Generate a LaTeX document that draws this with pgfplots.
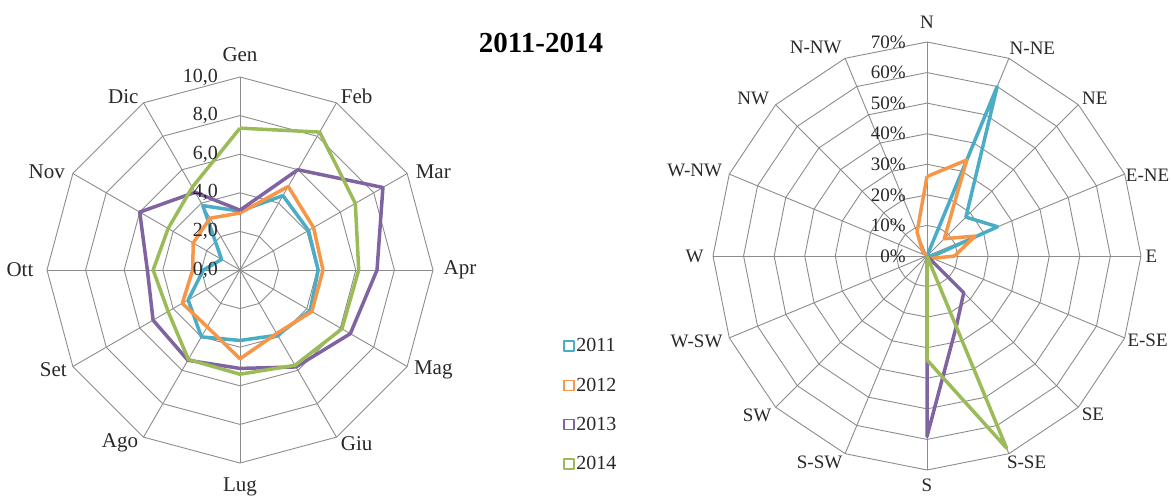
\documentclass[border=0pt]{standalone}
\usepackage{pgfplots}
\pgfplotsset{compat=1.18}
\usepackage{fontspec}
\setmainfont{Liberation Serif}
\definecolor{c11}{RGB}{75,172,198}
\definecolor{c12}{RGB}{247,150,70}
\definecolor{c13}{RGB}{128,100,162}
\definecolor{c14}{RGB}{155,187,89}
\definecolor{gridc}{RGB}{140,140,140}
\definecolor{txt}{RGB}{40,40,40}
\pgfplotsset{
  radargrid/.style={gridc, line width=0.9pt, forget plot, data cs=polar},
  series/.style={line width=3.5pt, line join=round, data cs=polar},
}
\begin{document}
\begin{tikzpicture}
\useasboundingbox (0pt,0pt) rectangle (1171pt,496pt);
\node[font=\fontsize{29}{32}\selectfont\bfseries, text=black] at (541pt,453pt) {2011-2014};

% ---------------- left: monthly ----------------
\begin{axis}[at={(240pt,226pt)}, anchor=center, scale only axis,
  width=386pt, height=386pt, xmin=-10, xmax=10, ymin=-10, ymax=10,
  hide axis, clip=false,
  legend cell align=left,
  legend style={at={(axis cs:16.74,-3.47)}, anchor=north west, draw=none, fill=none,
    font=\fontsize{20}{22}\selectfont, row sep=21.5pt, inner sep=0pt,
    nodes={inner sep=1.5pt, text=txt}},
  legend image code/.code={\draw[line width=1.5pt, fill=white] (0pt,-5pt) rectangle (10pt,5pt);}]
\pgfplotsinvokeforeach{2,4,6,8,10}{\addplot[radargrid, domain=0:360, samples=13] ({x},{#1});}
\pgfplotsinvokeforeach{0,30,...,330}{\addplot[radargrid] coordinates {(#1,0) (#1,10)};}

\addplot[series, c11] coordinates {(90,3.05) (60,4.45) (30,4.1) (0,4.05) (-30,4.2) (-60,3.9) (-90,3.65) (-120,4.0) (-150,3.1) (180,1.9) (150,1.1) (120,3.85) (90,3.05)};
\addlegendentry{2011}
\addplot[series, c12] coordinates {(90,2.95) (60,5.0) (30,4.4) (0,4.3) (-30,4.3) (-60,3.8) (-90,4.6) (-120,3.4) (-150,3.45) (180,2.45) (150,2.8) (120,3.1) (90,2.95)};
\addlegendentry{2012}
\addplot[series, c13] coordinates {(90,3.1) (60,6.0) (30,8.55) (0,7.1) (-30,6.6) (-60,5.8) (-90,5.1) (-120,5.4) (-150,5.2) (180,4.8) (150,6.0) (120,4.65) (90,3.1)};
\addlegendentry{2013}
\addplot[series, c14] coordinates {(90,7.35) (60,8.25) (30,6.9) (0,6.15) (-30,6.1) (-60,5.7) (-90,5.4) (-120,5.35) (-150,4.3) (180,4.5) (150,4.3) (120,4.95) (90,7.35)};
\addlegendentry{2014}

\pgfplotsinvokeforeach{0,2,4,6,8,10}{\node[anchor=east, inner sep=0pt, text=txt, font=\fontsize{20}{22}\selectfont] at (axis cs:-1.14,#1) {#1,0};}

\begin{scope}[every node/.style={text=txt, font=\fontsize{21}{24}\selectfont}]
\node at ([shift={(0pt,215pt)}]axis cs:0,0) {Gen};
\node at ([shift={(116.7pt,173.3pt)}]axis cs:0,0) {Feb};
\node at ([shift={(193.3pt,98.3pt)}]axis cs:0,0) {Mar};
\node at ([shift={(220pt,0pt)}]axis cs:0,0) {Apr};
\node at ([shift={(193.3pt,-100pt)}]axis cs:0,0) {Mag};
\node at ([shift={(116.7pt,-173.3pt)}]axis cs:0,0) {Giu};
\node at ([shift={(0pt,-217pt)}]axis cs:0,0) {Lug};
\node at ([shift={(-120pt,-173.3pt)}]axis cs:0,0) {Ago};
\node at ([shift={(-186.7pt,-100pt)}]axis cs:0,0) {Set};
\node at ([shift={(-220pt,0pt)}]axis cs:0,0) {Ott};
\node at ([shift={(-193.3pt,98.3pt)}]axis cs:0,0) {Nov};
\node at ([shift={(-116.7pt,173.3pt)}]axis cs:0,0) {Dic};
\end{scope}
\end{axis}

% ---------------- right: wind directions ----------------
\begin{axis}[at={(927pt,240pt)}, anchor=center, scale only axis,
  width=428pt, height=428pt, xmin=-70, xmax=70, ymin=-70, ymax=70,
  hide axis, clip=false]
\pgfplotsinvokeforeach{10,20,...,70}{\addplot[radargrid, domain=0:360, samples=17] ({x},{#1});}
\pgfplotsinvokeforeach{0,22.5,...,337.5}{\addplot[radargrid] coordinates {(#1,0) (#1,70)};}

% order: N, N-NE, NE, E-NE, E, E-SE, SE, S-SE, S, S-SW, SW, W-SW, W, W-NW, NW, N-NW
\addplot[series, c11] coordinates {(90,0) (67.5,60) (45,18) (22.5,25) (0,2) (-22.5,0) (-45,0) (-67.5,0) (-90,0) (-112.5,0) (-135,0) (-157.5,0) (180,0) (157.5,0) (135,0) (112.5,0) (90,0)};
\addplot[series, c12] coordinates {(90,26) (67.5,34) (45,8) (22.5,17) (0,9) (-22.5,2) (-45,1) (-67.5,0) (-90,0) (-112.5,0) (-135,0) (-157.5,0) (180,0) (157.5,0) (135,2) (112.5,8.5) (90,26)};
\addplot[series, c13] coordinates {(90,0) (67.5,0) (45,0) (22.5,0) (0,0) (-22.5,0) (-45,17) (-67.5,25) (-90,59) (-112.5,0) (-135,0) (-157.5,0) (180,0) (157.5,0) (135,0) (112.5,0) (90,0)};
\addplot[series, c14] coordinates {(90,0) (67.5,0) (45,0) (22.5,0) (0,0) (-22.5,0) (-45,0) (-67.5,68) (-90,34) (-112.5,0) (-135,0) (-157.5,0) (180,0) (157.5,0) (135,0) (112.5,0) (90,0)};

\pgfplotsinvokeforeach{0,10,...,70}{\node[anchor=east, inner sep=0pt, text=txt, font=\fontsize{19}{21}\selectfont] at (axis cs:-6.9,#1) {#1\%};}

\begin{scope}[every node/.style={text=txt, font=\fontsize{19}{21}\selectfont}]
\node at ([shift={(0pt,234pt)}]axis cs:0,0) {N};
\node at ([shift={(105.4pt,207.3pt)}]axis cs:0,0) {N-NE};
\node at ([shift={(167.9pt,157.9pt)}]axis cs:0,0) {NE};
\node at ([shift={(220.6pt,80.6pt)}]axis cs:0,0) {E-NE};
\node at ([shift={(224.5pt,0pt)}]axis cs:0,0) {E};
\node at ([shift={(220.6pt,-84pt)}]axis cs:0,0) {E-SE};
\node at ([shift={(166pt,-157.9pt)}]axis cs:0,0) {SE};
\node at ([shift={(99.6pt,-206.6pt)}]axis cs:0,0) {S-SE};
\node at ([shift={(0pt,-229pt)}]axis cs:0,0) {S};
\node at ([shift={(-107.4pt,-206.6pt)}]axis cs:0,0) {S-SW};
\node at ([shift={(-169.9pt,-159.6pt)}]axis cs:0,0) {SW};
\node at ([shift={(-230.4pt,-85.7pt)}]axis cs:0,0) {W-SW};
\node at ([shift={(-232.3pt,0pt)}]axis cs:0,0) {W};
\node at ([shift={(-232.3pt,85.7pt)}]axis cs:0,0) {W-NW};
\node at ([shift={(-173.8pt,157.9pt)}]axis cs:0,0) {NW};
\node at ([shift={(-111.3pt,208.3pt)}]axis cs:0,0) {N-NW};
\end{scope}
\end{axis}
\end{tikzpicture}
\end{document}
